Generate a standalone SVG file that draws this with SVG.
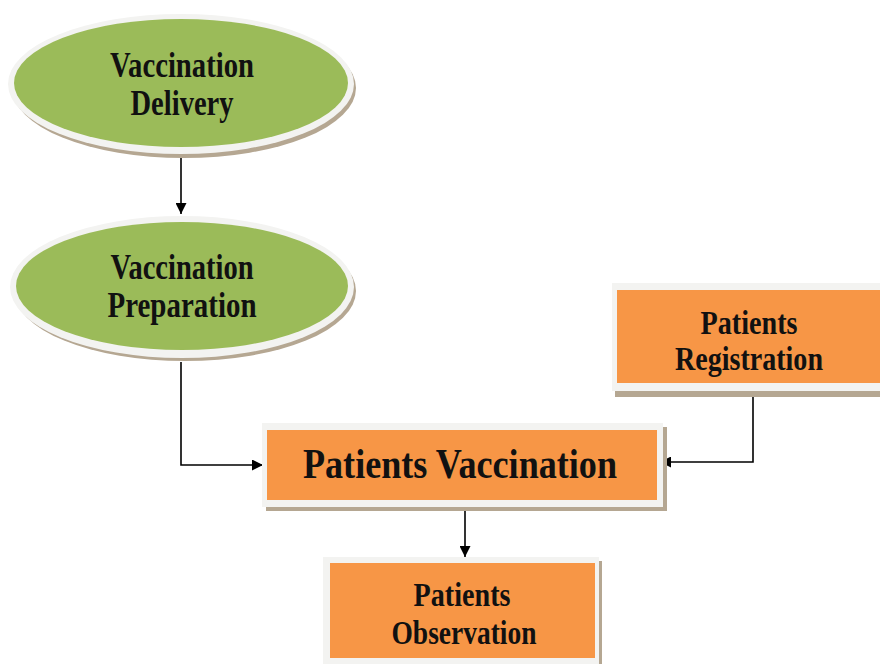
<svg xmlns="http://www.w3.org/2000/svg" width="880" height="664" viewBox="0 0 880 664">
<defs>
<style>
.lbl{font-family:"Liberation Serif","Times New Roman",serif;font-weight:bold;fill:#111;text-anchor:middle}
.shadow{fill:#b5a792}
.rim{fill:#f3f3f1}
.green{fill:#9bbb59}
.orange{fill:#f79646}
.con{fill:none;stroke:#000;stroke-width:1.6}
</style>
<marker id="ah" viewBox="0 0 10 10" refX="10" refY="5" markerWidth="12" markerHeight="11" markerUnits="userSpaceOnUse" orient="auto">
<path d="M0,0 L10,5 L0,10 z" fill="#000"/>
</marker>
</defs>
<rect width="880" height="664" fill="#fff"/>
<g id="connectors">
<line class="con" x1="181" y1="158" x2="181" y2="214" marker-end="url(#ah)"/>
<polyline class="con" points="181,362 181,465 263,465" marker-end="url(#ah)"/>
<polyline class="con" points="753,397 753,462 660,462" marker-end="url(#ah)"/>
<line class="con" x1="465" y1="511" x2="465" y2="557" marker-end="url(#ah)"/>
</g>
<g id="vaccination-delivery">
<ellipse class="shadow" cx="184" cy="88" rx="172" ry="70"/>
<ellipse class="rim" cx="181" cy="84" rx="173" ry="70"/>
<ellipse class="green" cx="181" cy="83" rx="167" ry="64"/>
<text class="lbl" x="182" y="77" font-size="36" textLength="144" lengthAdjust="spacingAndGlyphs">Vaccination</text>
<text class="lbl" x="182" y="115" font-size="36" textLength="103" lengthAdjust="spacingAndGlyphs">Delivery</text>
</g>
<g id="vaccination-preparation">
<ellipse class="shadow" cx="185" cy="291" rx="171" ry="70"/>
<ellipse class="rim" cx="182" cy="287" rx="172" ry="71"/>
<ellipse class="green" cx="182" cy="286" rx="166" ry="64"/>
<text class="lbl" x="182" y="279" font-size="35" textLength="143" lengthAdjust="spacingAndGlyphs">Vaccination</text>
<text class="lbl" x="182" y="317" font-size="35" textLength="149" lengthAdjust="spacingAndGlyphs">Preparation</text>
</g>
<g id="patients-registration">
<rect class="shadow" x="615" y="287" width="270" height="110"/>
<rect class="rim" x="612" y="283" width="270" height="108"/>
<rect class="orange" x="617" y="290" width="265" height="93"/>
<text class="lbl" x="749" y="334" font-size="34" textLength="97" lengthAdjust="spacingAndGlyphs">Patients</text>
<text class="lbl" x="749" y="370" font-size="34" textLength="148" lengthAdjust="spacingAndGlyphs">Registration</text>
</g>
<g id="patients-vaccination">
<rect class="shadow" x="266" y="427" width="401" height="84"/>
<rect class="rim" x="262" y="423" width="401" height="84"/>
<rect class="orange" x="267" y="430" width="390" height="70"/>
<text class="lbl" x="460" y="478" font-size="43" textLength="314" lengthAdjust="spacingAndGlyphs">Patients Vaccination</text>
</g>
<g id="patients-observation">
<rect class="shadow" x="327" y="561" width="275" height="110"/>
<rect class="rim" x="323" y="557" width="276" height="110"/>
<rect class="orange" x="330" y="563" width="265" height="95"/>
<text class="lbl" x="462" y="606" font-size="34" textLength="97" lengthAdjust="spacingAndGlyphs">Patients</text>
<text class="lbl" x="464" y="644" font-size="34" textLength="145" lengthAdjust="spacingAndGlyphs">Observation</text>
</g>
</svg>
